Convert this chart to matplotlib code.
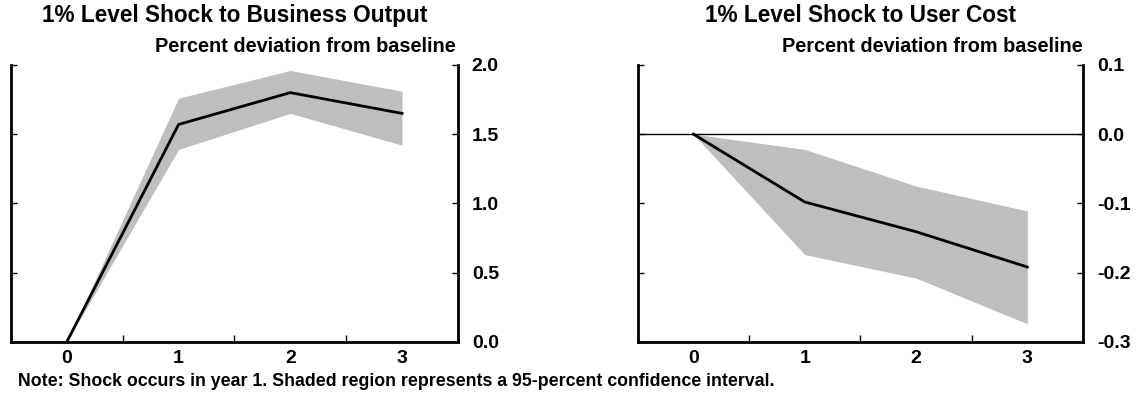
import matplotlib.pyplot as plt
import numpy as np

plt.rcParams['font.family'] = ['Liberation Sans', 'DejaVu Sans']
plt.rcParams['font.weight'] = 'bold'

years = [0, 1, 2, 3]

output_mid = [0.0, 1.57, 1.80, 1.65]
output_lo = [0.0, 1.39, 1.65, 1.42]
output_hi = [0.0, 1.76, 1.96, 1.81]

cost_mid = [0.0, -0.098, -0.141, -0.192]
cost_lo = [0.0, -0.174, -0.208, -0.274]
cost_hi = [0.0, -0.022, -0.075, -0.111]

fig = plt.figure(figsize=(11.37, 3.96), dpi=100)
ax1 = fig.add_axes([0.0097, 0.137, 0.393, 0.699])
ax2 = fig.add_axes([0.5609, 0.137, 0.3916, 0.699])


def style(ax, ylim, yticks, fmt):
    ax.set_xlim(-0.5, 3.5)
    ax.set_ylim(*ylim)
    ax.spines['top'].set_visible(False)
    for s in ['left', 'right', 'bottom']:
        ax.spines[s].set_linewidth(2)
    ax.set_yticks(yticks)
    ax.set_yticklabels([fmt.format(v) for v in yticks])
    ax.yaxis.set_ticks_position('both')
    ax.tick_params(axis='y', direction='in', length=4, width=1,
                   labelleft=False, labelright=True, labelsize=14, pad=10)
    ax.set_xticks(years)
    ax.set_xticks([0.5, 1.5, 2.5], minor=True)
    ax.tick_params(axis='x', which='major', length=0, labelsize=14, pad=6)
    ax.tick_params(axis='x', which='minor', direction='in', length=5, width=1)


ax1.fill_between(years, output_lo, output_hi, color='#bebebe', lw=0)
ax1.plot(years, output_mid, color='black', lw=2)
style(ax1, (0, 2.0), [0.0, 0.5, 1.0, 1.5, 2.0], '{:.1f}')

ax2.axhline(0, color='black', lw=1)
ax2.fill_between(years, cost_lo, cost_hi, color='#bebebe', lw=0)
ax2.plot(years, cost_mid, color='black', lw=2)
style(ax2, (-0.3, 0.1), [-0.3, -0.2, -0.1, 0.0, 0.1], '{:.1f}')

fig.text(0.206, 0.962, '1% Level Shock to Business Output', ha='center', va='center', fontsize=16.3)
fig.text(0.757, 0.962, '1% Level Shock to User Cost', ha='center', va='center', fontsize=16.3)
fig.text(0.401, 0.882, 'Percent deviation from baseline', ha='right', va='center', fontsize=14.3)
fig.text(0.952, 0.882, 'Percent deviation from baseline', ha='right', va='center', fontsize=14.3)
fig.text(0.016, 0.037, 'Note: Shock occurs in year 1. Shaded region represents a 95-percent confidence interval.',
         ha='left', va='center', fontsize=12.8)

fig.savefig('out.png', dpi=100)
